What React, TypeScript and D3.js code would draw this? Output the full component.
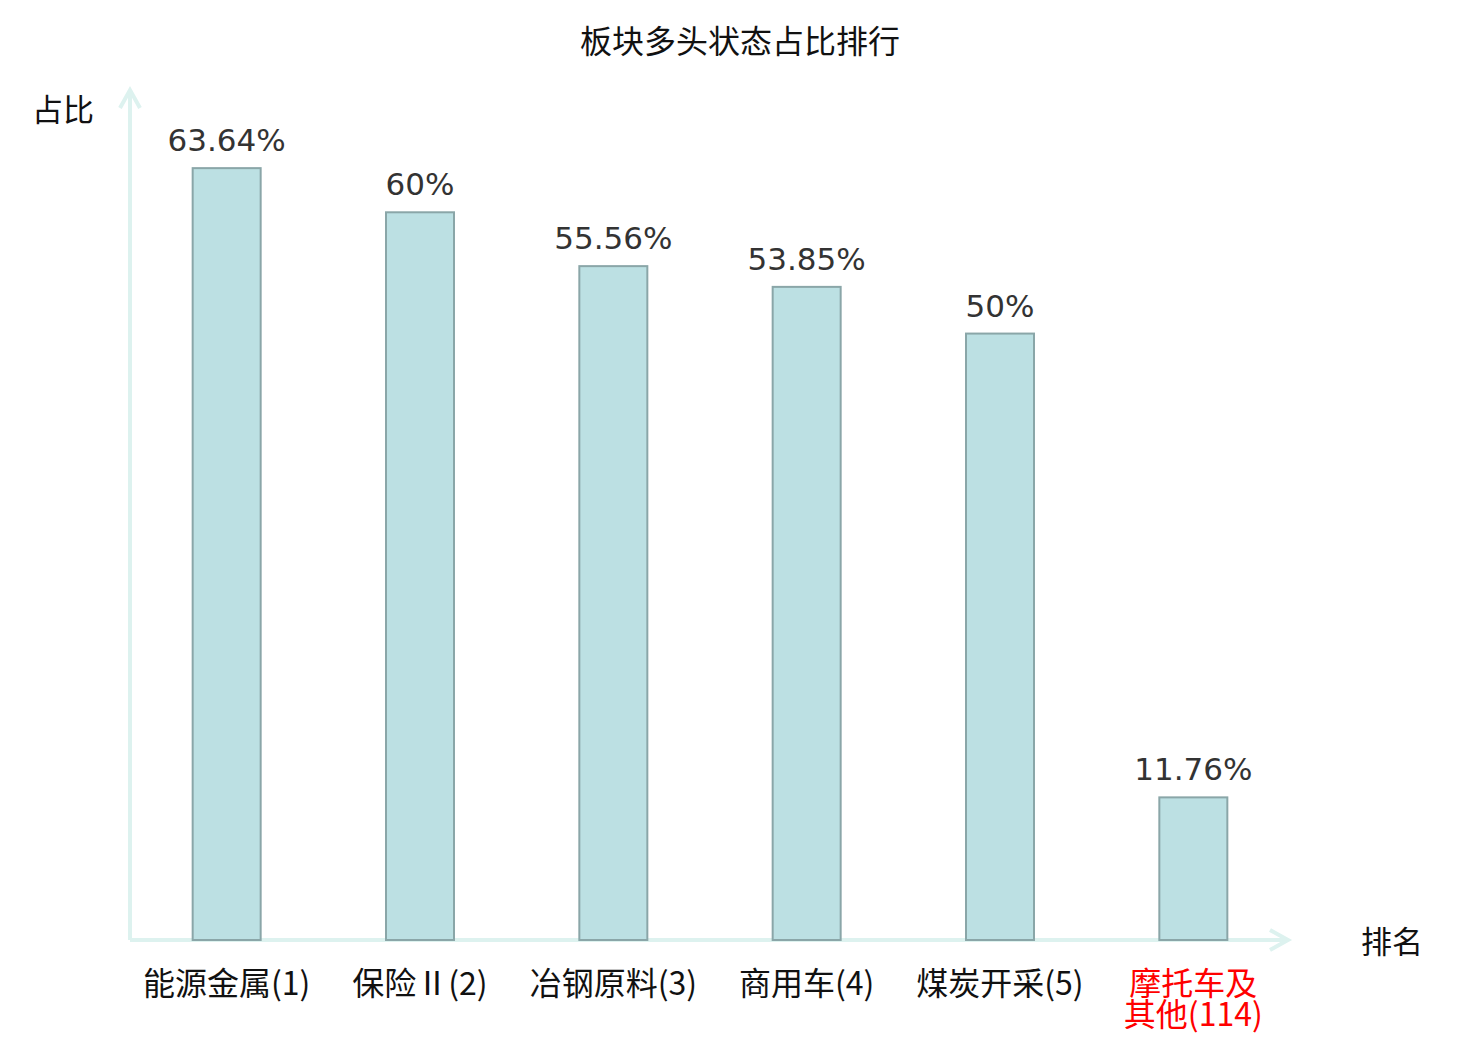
import React from 'react';
import * as d3 from 'd3';

const categories = ['能源金属(1)', '保险Ⅱ(2)', '冶钢原料(3)', '商用车(4)', '煤炭开采(5)', '摩托车及其他(114)'];
const labelLines = [['能源金属(1)'], ['保险Ⅱ(2)'], ['冶钢原料(3)'], ['商用车(4)'], ['煤炭开采(5)'], ['摩托车及', '其他(114)']];
const values = [63.64, 60, 55.56, 53.85, 50, 11.76];
const highlighted = ['摩托车及其他(114)'];

const width = 1480;
const height = 1040;
const cjk = '"Noto Sans CJK SC", "Noto Sans", sans-serif';
const latin = '"DejaVu Sans", "Noto Sans CJK SC", sans-serif';
const axisColor = '#ddf2ef';

const App: React.FC = () => {
  const svgRef = React.useRef<SVGSVGElement>(null);

  React.useEffect(() => {
    if (!svgRef.current) return;
    const svg = d3.select(svgRef.current);
    svg.selectAll('*').remove();

    const x0 = 130, x1 = 1290, yBase = 940;

    const xScale = d3.scaleBand<string>()
      .domain(categories)
      .range([x0, x1])
      .padding(0);

    const yScale = d3.scaleLinear()
      .domain([0, 70])
      .range([yBase, 91]);

    const barW = 68;

    // 标题
    svg.append('text')
      .attr('x', 740)
      .attr('y', 53)
      .attr('text-anchor', 'middle')
      .attr('font-family', cjk)
      .attr('font-size', 32)
      .attr('fill', '#111')
      .text('板块多头状态占比排行');

    // 坐标轴
    const axes = svg.append('g')
      .attr('stroke', axisColor)
      .attr('stroke-width', 4)
      .attr('fill', 'none');

    axes.append('line')
      .attr('x1', x0).attr('y1', yBase)
      .attr('x2', x0).attr('y2', yScale(70) - 1);
    axes.append('polyline')
      .attr('points', `${x0 - 10},${yScale(70) + 17} ${x0},${yScale(70) - 1} ${x0 + 10},${yScale(70) + 17}`);

    axes.append('line')
      .attr('x1', x0).attr('y1', yBase)
      .attr('x2', x1 - 2).attr('y2', yBase);
    axes.append('polyline')
      .attr('points', `${x1 - 20},${yBase - 10} ${x1 - 2},${yBase} ${x1 - 20},${yBase + 10}`);

    // 轴名
    svg.append('text')
      .attr('x', 63).attr('y', 121)
      .attr('text-anchor', 'middle')
      .attr('font-family', cjk).attr('font-size', 31).attr('fill', '#111')
      .text('占比');
    svg.append('text')
      .attr('x', 1392).attr('y', 953)
      .attr('text-anchor', 'middle')
      .attr('font-family', cjk).attr('font-size', 31).attr('fill', '#111')
      .text('排名');

    // 柱子
    const cx = (c: string) => (xScale(c) || 0) + xScale.bandwidth() / 2;

    svg.append('g')
      .selectAll('rect')
      .data(categories)
      .enter().append('rect')
      .attr('x', d => cx(d) - barW / 2)
      .attr('y', (d, i) => yScale(values[i]))
      .attr('width', barW)
      .attr('height', (d, i) => yBase - yScale(values[i]))
      .attr('fill', '#bce0e3')
      .attr('stroke', '#8aa6a8')
      .attr('stroke-width', 2);

    // 数值标签
    svg.append('g')
      .selectAll('text')
      .data(categories)
      .enter().append('text')
      .attr('x', d => cx(d))
      .attr('y', (d, i) => yScale(values[i]) - 17)
      .attr('text-anchor', 'middle')
      .attr('font-family', latin)
      .attr('font-size', 31)
      .attr('fill', '#333')
      .text((d, i) => `${values[i]}%`);

    // 类目标签
    categories.forEach((c, i) => {
      const t = svg.append('text')
        .attr('x', cx(c))
        .attr('y', 995)
        .attr('text-anchor', 'middle')
        .attr('font-family', cjk)
        .attr('font-size', 32)
        .attr('fill', highlighted.includes(c) ? '#f00' : '#111');
      labelLines[i].forEach((line, j) => {
        t.append('tspan')
          .attr('x', cx(c))
          .attr('dy', j === 0 ? 0 : 31)
          .text(line);
      });
    });
  }, []);

  return (
    <div style={{ position: 'absolute', left: 0, top: 0, background: '#fff' }}>
      <svg ref={svgRef} width={width} height={height} />
    </div>
  );
};

export default App;
